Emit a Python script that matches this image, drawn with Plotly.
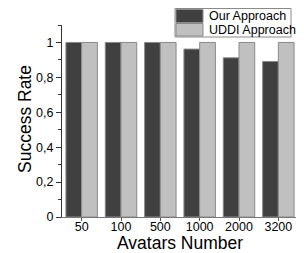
import plotly.graph_objects as go

categories = ["50", "100", "500", "1000", "2000", "3200"]
our_approach = [1.0, 1.0, 1.0, 0.962, 0.912, 0.891]
uddi_approach = [1.0, 1.0, 1.0, 1.0, 1.0, 1.0]
y_tick_vals = [0, 0.2, 0.4, 0.6, 0.8, 1.0]
y_tick_text = ["0", "0,2", "0,4", "0,6", "0,8", "1"]
series_names = ["Our Approach", "UDDI Approach"]
series_colors = ["#404040", "#c0c0c0"]

font = "Liberation Sans, Arial, sans-serif"
# page body has an 8px default margin; layout expressed in window pixels
OFF = 8
WIN_W, WIN_H = 304, 253
W, H = WIN_W - OFF, WIN_H - OFF
PL, PR, PT, PB = 62, 298, 25, 217  # plot area in window pixels
L, R, T, B = PL - OFF, W - (PR - OFF), PT - OFF, H - (PB - OFF)
pw, ph = PR - PL, PB - PT


def px_x(v):
    return (v - PL) / pw


def px_y(v):
    return (PB - v) / ph


fig = go.Figure()
for name, vals, col in zip(series_names, [our_approach, uddi_approach], series_colors):
    fig.add_trace(go.Bar(x=categories, y=vals, name=name, showlegend=False,
                         marker=dict(color=col, line=dict(color="#8a8a8a", width=1))))

# manual legend (box + wide swatches)
shapes = [dict(type="rect", xref="paper", yref="paper",
               x0=px_x(175), x1=px_x(291), y0=px_y(37), y1=px_y(8.5),
               line=dict(color="#8a8a8a", width=1), fillcolor="white", layer="above")]
annotations = []
sw_rows = [(9.5, 22.5), (23.5, 36)]
for (yt, yb), name, col in zip(sw_rows, series_names, series_colors):
    shapes.append(dict(type="rect", xref="paper", yref="paper",
                       x0=px_x(176), x1=px_x(203), y0=px_y(yb), y1=px_y(yt),
                       line=dict(color="#8a8a8a", width=1), fillcolor=col, layer="above"))
    annotations.append(dict(xref="paper", yref="paper", x=px_x(207), y=px_y((yt + yb) / 2),
                            xanchor="left", yanchor="middle", text=name, showarrow=False,
                            font=dict(size=12.5, family=font, color="#000")))

annotations.append(dict(xref="paper", yref="paper", x=px_x(180), y=px_y(242.5),
                        xanchor="center", yanchor="middle", text="Avatars Number",
                        showarrow=False, font=dict(size=17.5, family=font, color="#000")))
annotations.append(dict(xref="paper", yref="paper", x=px_x(25), y=px_y(119),
                        xanchor="center", yanchor="middle", text="Success Rate", textangle=-90,
                        showarrow=False, font=dict(size=17.5, family=font, color="#000")))

fig.update_layout(
    width=W, height=H,
    margin=dict(l=L, r=R, t=T, b=B, pad=0),
    paper_bgcolor="white", plot_bgcolor="white",
    barmode="group", bargap=0.2, bargroupgap=0,
    font=dict(family=font, color="#000000", size=12),
    showlegend=False,
    shapes=shapes, annotations=annotations,
    xaxis=dict(
        type="category", automargin=False,
        showline=True, linecolor="#777777", linewidth=1,
        ticks="outside", ticklen=3, tickcolor="#555555",
        tickfont=dict(size=12.5, family=font), ticklabelstandoff=-5,
        showgrid=False, zeroline=False,
    ),
    yaxis=dict(
        range=[0, 1.1], automargin=False,
        showline=True, linecolor="#333333", linewidth=1,
        ticks="outside", ticklen=5, tickcolor="#333333",
        tickvals=y_tick_vals, ticktext=y_tick_text,
        tickfont=dict(size=12.5, family=font),
        minor=dict(ticks="outside", ticklen=3, tickcolor="#333333", dtick=0.1, showgrid=False),
        showgrid=False, zeroline=False,
    ),
)

fig.write_html("out.html")
